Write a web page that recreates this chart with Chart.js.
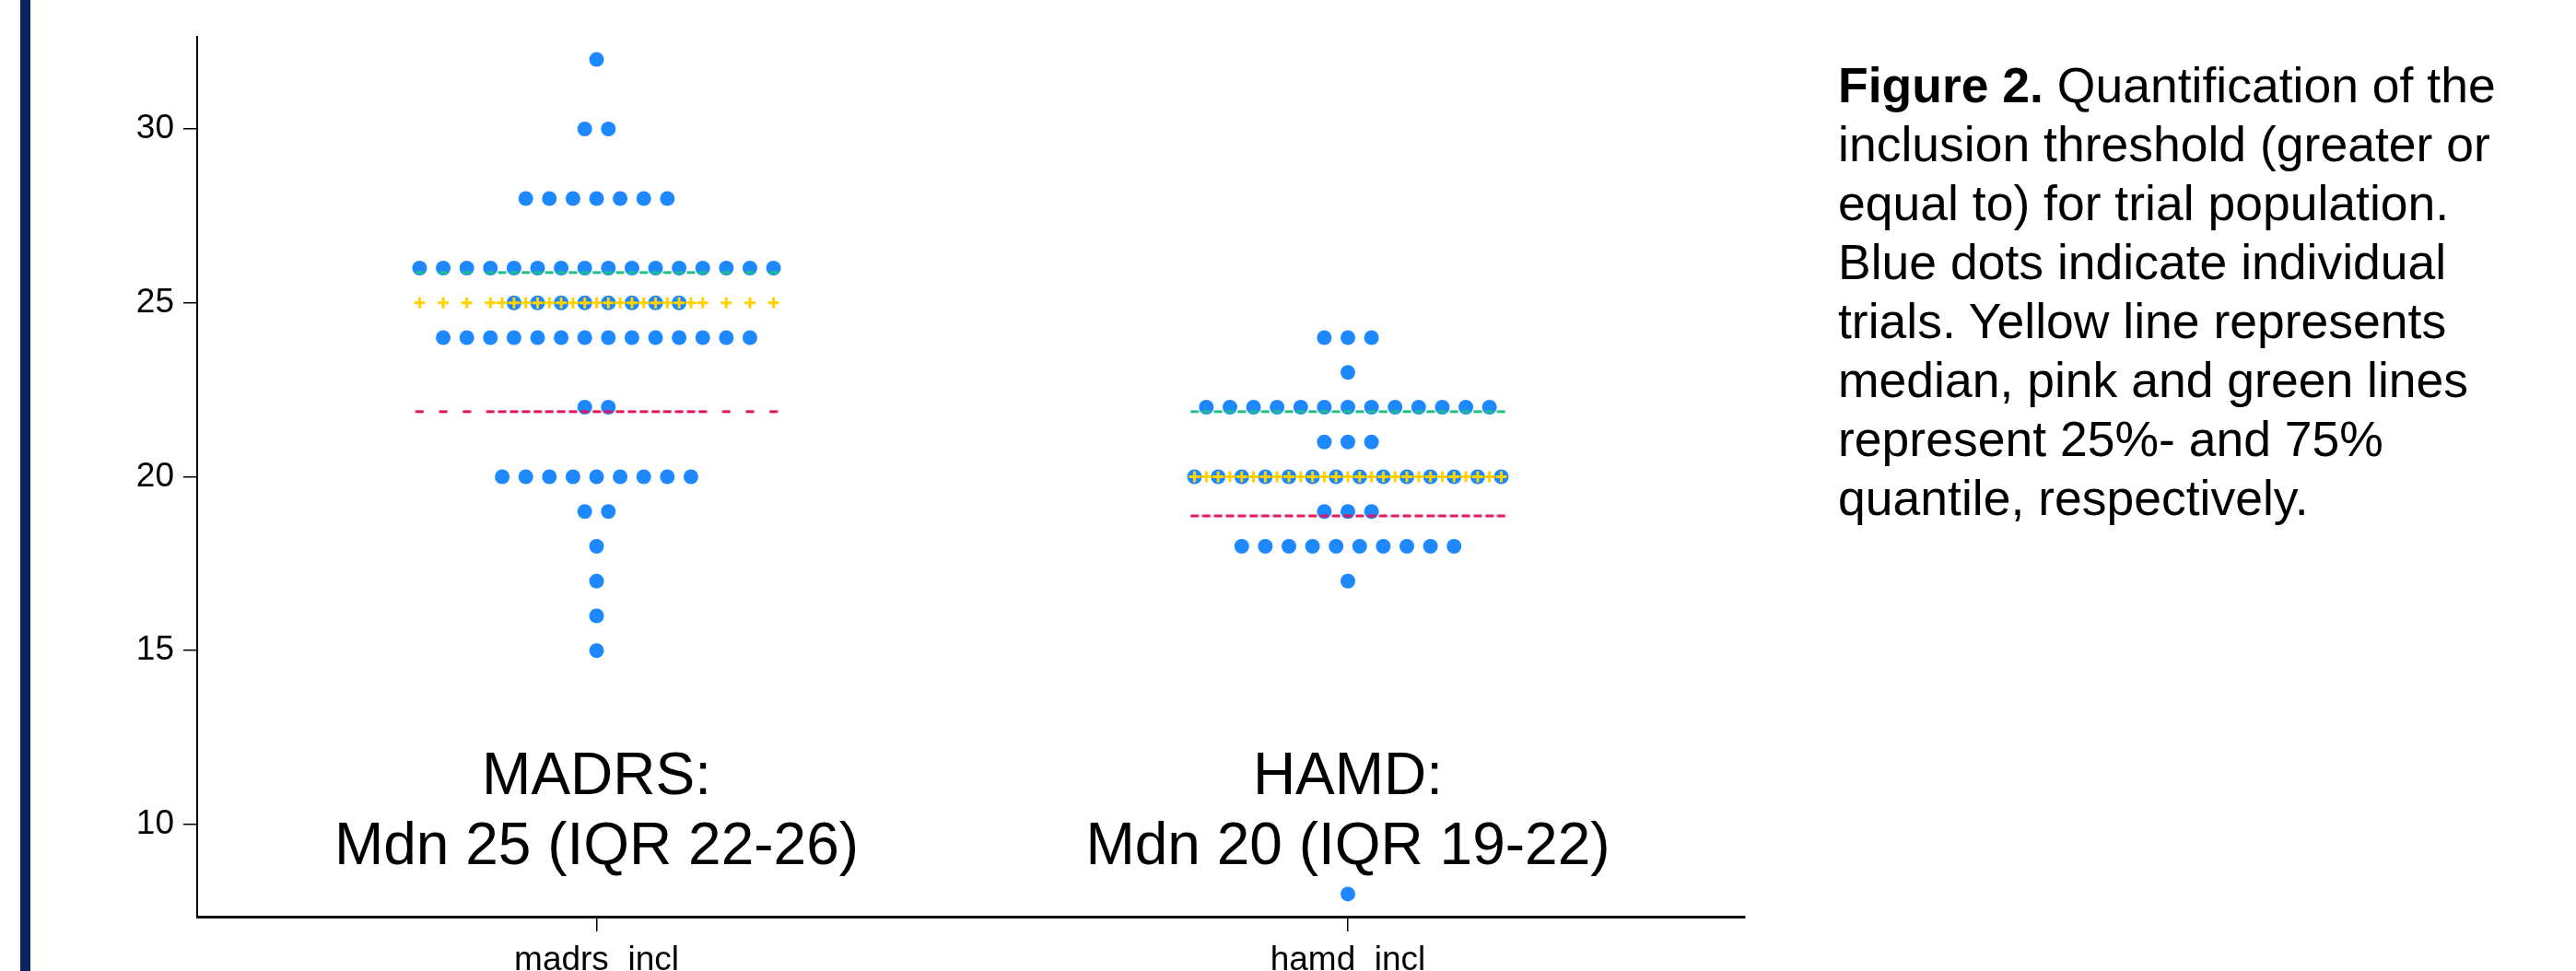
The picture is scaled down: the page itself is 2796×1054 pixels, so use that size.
<!DOCTYPE html>
<html>
<head>
<meta charset="utf-8">
<script src="https://cdn.jsdelivr.net/npm/chart.js@4.4.0/dist/chart.umd.min.js"></script>
<style>
html,body{margin:0;padding:0;width:2796px;height:1054px;overflow:hidden;background:#fff;}
#bar{position:absolute;left:22px;top:0;width:11px;height:1054px;background:#0b2463;}
#wrap{position:absolute;left:0;top:0;width:2796px;height:1100px;}
#c{width:2796px;height:1100px;display:block;}
#cap{position:absolute;left:1995px;top:61px;font-family:'Liberation Sans',Arial,sans-serif;font-size:53.5px;line-height:64px;color:#000;white-space:nowrap;}
</style>
</head>
<body>
<div id="bar"></div>
<div id="wrap"><canvas id="c" width="2796" height="1100"></canvas></div>
<div id="cap"><b>Figure 2.</b> Quantification of the<br>inclusion threshold (greater or<br>equal to) for trial population.<br>Blue dots indicate individual<br>trials. Yellow line represents<br>median, pink and green lines<br>represent 25%- and 75%<br>quantile, respectively.</div>
<script>
// ---------------- data ----------------
const categories = ['madrs_incl', 'hamd_incl'];
const madrsValues = [
  32,
  30, 30,
  28, 28, 28, 28, 28, 28, 28,
  26, 26, 26, 26, 26, 26, 26, 26, 26, 26, 26, 26, 26, 26, 26, 26,
  25, 25, 25, 25, 25, 25, 25, 25,
  24, 24, 24, 24, 24, 24, 24, 24, 24, 24, 24, 24, 24, 24,
  22, 22,
  20, 20, 20, 20, 20, 20, 20, 20, 20,
  19, 19,
  18,
  17,
  16,
  15
];
const hamdValues = [
  24, 24, 24,
  23,
  22, 22, 22, 22, 22, 22, 22, 22, 22, 22, 22, 22, 22,
  21, 21, 21,
  20, 20, 20, 20, 20, 20, 20, 20, 20, 20, 20, 20, 20, 20,
  19, 19, 19,
  18, 18, 18, 18, 18, 18, 18, 18, 18, 18,
  17,
  8
];
const medians = [25, 20];
const quantile25 = [22, 19];
const quantile75 = [26, 22];
const yTicks = [10, 15, 20, 25, 30];
const summaryTitles = ['MADRS:', 'HAMD:'];
const summaryLines = ['Mdn 25 (IQR 22-26)', 'Mdn 20 (IQR 19-22)'];

// ---------------- layout helpers ----------------
const FONT = "'Liberation Sans', Arial, sans-serif";
const SLOT = 0.0314; // horizontal spacing of stacked dots, in x-axis units

function swarm(values, cx) {
  const counts = {};
  values.forEach(v => { counts[v] = (counts[v] || 0) + 1; });
  const pts = [];
  Object.keys(counts).forEach(k => {
    const n = counts[k];
    for (let i = 0; i < n; i++) pts.push({x: cx + (i - (n - 1) / 2) * SLOT, y: +k});
  });
  return {pts, counts};
}
function markerXs(counts, cx) {
  let maxEven = 0, maxOdd = 0;
  Object.values(counts).forEach(n => {
    if (n % 2 === 0) maxEven = Math.max(maxEven, n); else maxOdd = Math.max(maxOdd, n);
  });
  const xs = [];
  for (let i = 0; i < maxEven; i++) xs.push(cx + (i - (maxEven - 1) / 2) * SLOT);
  for (let i = 0; i < maxOdd; i++) xs.push(cx + (i - (maxOdd - 1) / 2) * SLOT);
  return xs;
}
function dashImage(color) {
  const c = document.createElement('canvas');
  c.width = 10; c.height = 22;
  const g = c.getContext('2d');
  g.fillStyle = color;
  g.fillRect(0.5, 11 + 4.8 - 1.5, 9, 3);
  return c;
}

const groups = [madrsValues, hamdValues].map((vals, i) => swarm(vals, i + 1));
const dots = [].concat(...groups.map(g => g.pts));
const medPts = [], q25Pts = [], q75Pts = [];
groups.forEach((g, i) => {
  markerXs(g.counts, i + 1).forEach(x => {
    medPts.push({x, y: medians[i]});
    q25Pts.push({x, y: quantile25[i]});
    q75Pts.push({x, y: quantile75[i]});
  });
});

const summaryPlugin = {
  id: 'summary',
  afterDatasetsDraw(chart) {
    const {ctx, scales: {x, y}} = chart;
    ctx.save();
    ctx.font = '64px ' + FONT;
    ctx.fillStyle = '#000';
    ctx.textAlign = 'center';
    ctx.textBaseline = 'alphabetic';
    categories.forEach((c, i) => {
      const px = x.getPixelForValue(i + 1);
      const base = y.getPixelForValue(10.87);
      ctx.fillText(summaryTitles[i], px, base);
      ctx.fillText(summaryLines[i], px, base + 76);
    });
    ctx.restore();
  }
};

new Chart(document.getElementById('c'), {
  type: 'scatter',
  data: {
    datasets: [
      {label: 'median', data: medPts, order: 0, pointStyle: 'cross', radius: 6,
       borderWidth: 3, borderColor: '#ffd200', backgroundColor: '#ffd200'},
      {label: 'q25', data: q25Pts, order: 1, pointStyle: dashImage('#e0145a'), radius: 5},
      {label: 'q75', data: q75Pts, order: 1, pointStyle: dashImage('#1dbf86'), radius: 5},
      {label: 'trials', data: dots, order: 2, pointStyle: 'circle', radius: 8,
       borderWidth: 0, backgroundColor: '#1e88ff', borderColor: '#1e88ff'}
    ]
  },
  options: {
    responsive: false,
    animation: false,
    devicePixelRatio: 1,
    events: [],
    layout: {padding: {left: 0, right: 902, top: 40, bottom: 0}},
    plugins: {legend: {display: false}, tooltip: {enabled: false}},
    scales: {
      x: {
        type: 'linear', position: 'bottom', min: 0.4684, max: 2.5285,
        afterFit: s => { s.height = 105; },
        afterBuildTicks: s => { s.ticks = categories.map((c, i) => ({value: i + 1})); },
        ticks: {callback: v => categories[Math.round(v) - 1], font: {family: FONT, size: 37},
                color: '#000', padding: 10, maxRotation: 0, minRotation: 0, autoSkip: false},
        grid: {display: true, drawOnChartArea: false, drawTicks: true, tickLength: 16,
               color: '#000', lineWidth: 1.5},
        border: {display: true, color: '#111', width: 3}
      },
      y: {
        type: 'linear', min: 7.35, max: 32.65,
        afterFit: s => { s.width = 214; },
        afterBuildTicks: s => { s.ticks = yTicks.map(v => ({value: v})); },
        ticks: {font: {family: FONT, size: 37}, color: '#000', padding: 10},
        grid: {display: true, drawOnChartArea: false, drawTicks: true, tickLength: 15,
               color: '#000', lineWidth: 1.5},
        border: {display: true, color: '#000', width: 2}
      }
    }
  },
  plugins: [summaryPlugin]
});
</script>
</body>
</html>
